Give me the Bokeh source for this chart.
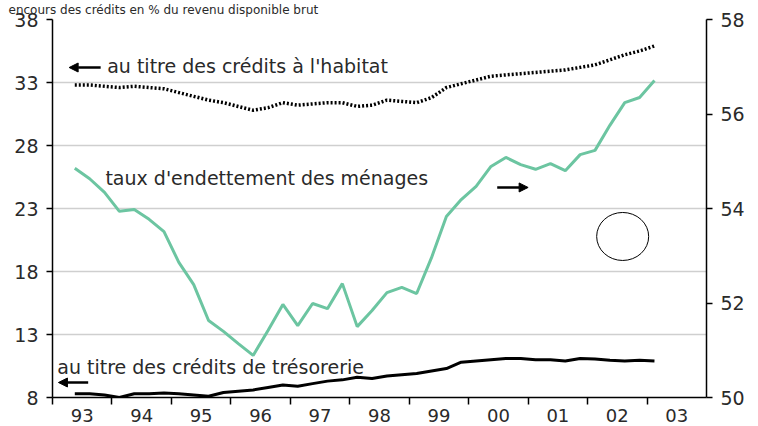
from bokeh.plotting import figure
from bokeh.models import Range1d, LinearAxis, FixedTicker, Arrow, NormalHead, Label, ColumnDataSource
from bokeh.embed import file_html
from bokeh.resources import INLINE

# quarterly dates (mid-quarter, decimal years), 1993Q2 .. 2003Q1
dates = [1993.375, 1993.625, 1993.875,
         1994.125, 1994.375, 1994.625, 1994.875,
         1995.125, 1995.375, 1995.625, 1995.875,
         1996.125, 1996.375, 1996.625, 1996.875,
         1997.125, 1997.375, 1997.625, 1997.875,
         1998.125, 1998.375, 1998.625, 1998.875,
         1999.125, 1999.375, 1999.625, 1999.875,
         2000.125, 2000.375, 2000.625, 2000.875,
         2001.125, 2001.375, 2001.625, 2001.875,
         2002.125, 2002.375, 2002.625, 2002.875,
         2003.125]

# taux d'endettement des ménages (right axis, % of disposable income)
endettement = [54.85, 54.63, 54.34, 53.94, 53.98, 53.77, 53.51, 52.86, 52.39, 51.63,
               51.40, 51.14, 50.89, 51.42, 51.97, 51.52, 51.99, 51.88, 52.41, 51.50,
               51.84, 52.22, 52.33, 52.20, 52.96, 53.83, 54.19, 54.47, 54.89, 55.08,
               54.93, 54.83, 54.95, 54.80, 55.14, 55.23, 55.76, 56.24, 56.35, 56.71]

# au titre des crédits à l'habitat (left axis)
habitat = [32.8, 32.8, 32.7, 32.6, 32.7, 32.6, 32.5, 32.2, 31.9, 31.6,
           31.4, 31.1, 30.8, 31.0, 31.4, 31.2, 31.3, 31.4, 31.4, 31.1,
           31.2, 31.6, 31.5, 31.4, 31.8, 32.6, 32.9, 33.2, 33.5, 33.6,
           33.7, 33.8, 33.9, 34.0, 34.2, 34.4, 34.8, 35.2, 35.5, 35.9]

# au titre des crédits de trésorerie (left axis)
tresorerie = [8.3, 8.3, 8.2, 8.0, 8.3, 8.3, 8.35, 8.3, 8.2, 8.1,
              8.4, 8.5, 8.6, 8.8, 9.0, 8.9, 9.1, 9.3, 9.4, 9.6,
              9.5, 9.7, 9.8, 9.9, 10.1, 10.3, 10.8, 10.9, 11.0, 11.1,
              11.1, 11.0, 11.0, 10.9, 11.1, 11.05, 10.95, 10.9, 10.95, 10.9]

year_ticks = [1993.5, 1994.5, 1995.5, 1996.5, 1997.5, 1998.5, 1999.5, 2000.5, 2001.5, 2002.5, 2003.5]
year_labels = ["93", "94", "95", "96", "97", "98", "99", "00", "01", "02", "03"]
year_bounds = [1993, 1994, 1995, 1996, 1997, 1998, 1999, 2000, 2001, 2002, 2003]
left_ticks = [8, 13, 18, 23, 28, 33, 38]
right_ticks = [50, 52, 54, 56, 58]

FONT = "DejaVu Sans"
TXT = "#2a2a2a"

src = ColumnDataSource(dict(x=dates, e=endettement, h=habitat, t=tresorerie))

p = figure(frame_width=654, frame_height=378, output_backend="svg", toolbar_location=None,
           x_range=Range1d(1993, 2004), y_range=Range1d(8, 38),
           min_border_left=52, min_border_right=52, min_border_top=19, min_border_bottom=29,
           background_fill_color="white", border_fill_color="white")
p.outline_line_color = None
p.extra_y_ranges = {"right": Range1d(50, 58)}

# heading (cut off at the top in the reference)
p.title.text = "encours des crédits en % du revenu disponible brut"
p.title.text_font = FONT
p.title.text_font_size = "12px"
p.title.text_font_style = "normal"
p.title.text_color = TXT
p.title.align = "left"
p.title.offset = -44
p.title.standoff = 1
p.title.vertical_align = "top"

p.xgrid.grid_line_color = None
p.ygrid.ticker = FixedTicker(ticks=left_ticks)
p.ygrid.grid_line_color = "#cfcfcf"
p.ygrid.grid_line_width = 1.5

# bottom axis
xa = p.xaxis[0]
xa.ticker = FixedTicker(ticks=year_ticks, minor_ticks=year_bounds)
xa.major_label_overrides = {t: l for t, l in zip(year_ticks, year_labels)}
xa.major_tick_out = 0
xa.major_tick_in = 0
xa.minor_tick_out = 7
xa.minor_tick_in = 0
xa.minor_tick_line_color = "black"
xa.minor_tick_line_width = 1.5
xa.axis_line_width = 1.5
xa.axis_line_color = "black"
xa.major_label_standoff = 4
xa.major_label_text_font = FONT
xa.major_label_text_font_size = "18px"
xa.major_label_text_color = TXT

# left axis
ya = p.yaxis[0]
ya.ticker = FixedTicker(ticks=left_ticks)
ya.major_tick_out = 6
ya.major_tick_in = 0
ya.minor_tick_out = 0
ya.minor_tick_in = 0
ya.axis_line_width = 1.5
ya.major_tick_line_width = 1.5
ya.major_label_standoff = 8
ya.major_label_text_font = FONT
ya.major_label_text_font_size = "19px"
ya.major_label_text_color = TXT

# right axis
ra = LinearAxis(y_range_name="right", ticker=FixedTicker(ticks=right_ticks))
ra.major_tick_out = 6
ra.major_tick_in = 0
ra.minor_tick_out = 0
ra.minor_tick_in = 0
ra.axis_line_width = 1.5
ra.major_tick_line_width = 1.5
ra.major_label_standoff = 8
ra.major_label_text_font = FONT
ra.major_label_text_font_size = "19px"
ra.major_label_text_color = TXT
p.add_layout(ra, "right")

# series
p.line("x", "h", source=src, line_color="black", line_width=3.5, line_dash="2 2")
p.line("x", "t", source=src, line_color="black", line_width=3)
p.line("x", "e", source=src, line_color="#6cc5a1", line_width=3, y_range_name="right")

# annotations
def lab(x, y, text):
    p.add_layout(Label(x=x, y=y, text=text, text_font=FONT, text_font_size="19px",
                       text_color=TXT, text_baseline="middle", text_align="left"))

lab(1993.92, 34.27, "au titre des crédits à l'habitat")
lab(1993.89, 25.46, "taux d'endettement des ménages")
lab(1993.08, 10.46, "au titre des crédits de trésorerie")

def arrow(x0, x1, y):
    p.add_layout(Arrow(end=NormalHead(size=9, fill_color="black", line_color="black"),
                       x_start=x0, y_start=y, x_end=x1, y_end=y,
                       line_color="black", line_width=2.5))

arrow(1993.81, 1993.28, 34.19)
arrow(2000.48, 2001.0, 24.67)
arrow(1993.60, 1993.10, 9.19)

p.ellipse(x=[2002.59], y=[20.78], width=52, height=48, width_units="screen", height_units="screen",
          fill_color=None, line_color="black", line_width=1)

open("out.html", "w").write(file_html(p, INLINE))
